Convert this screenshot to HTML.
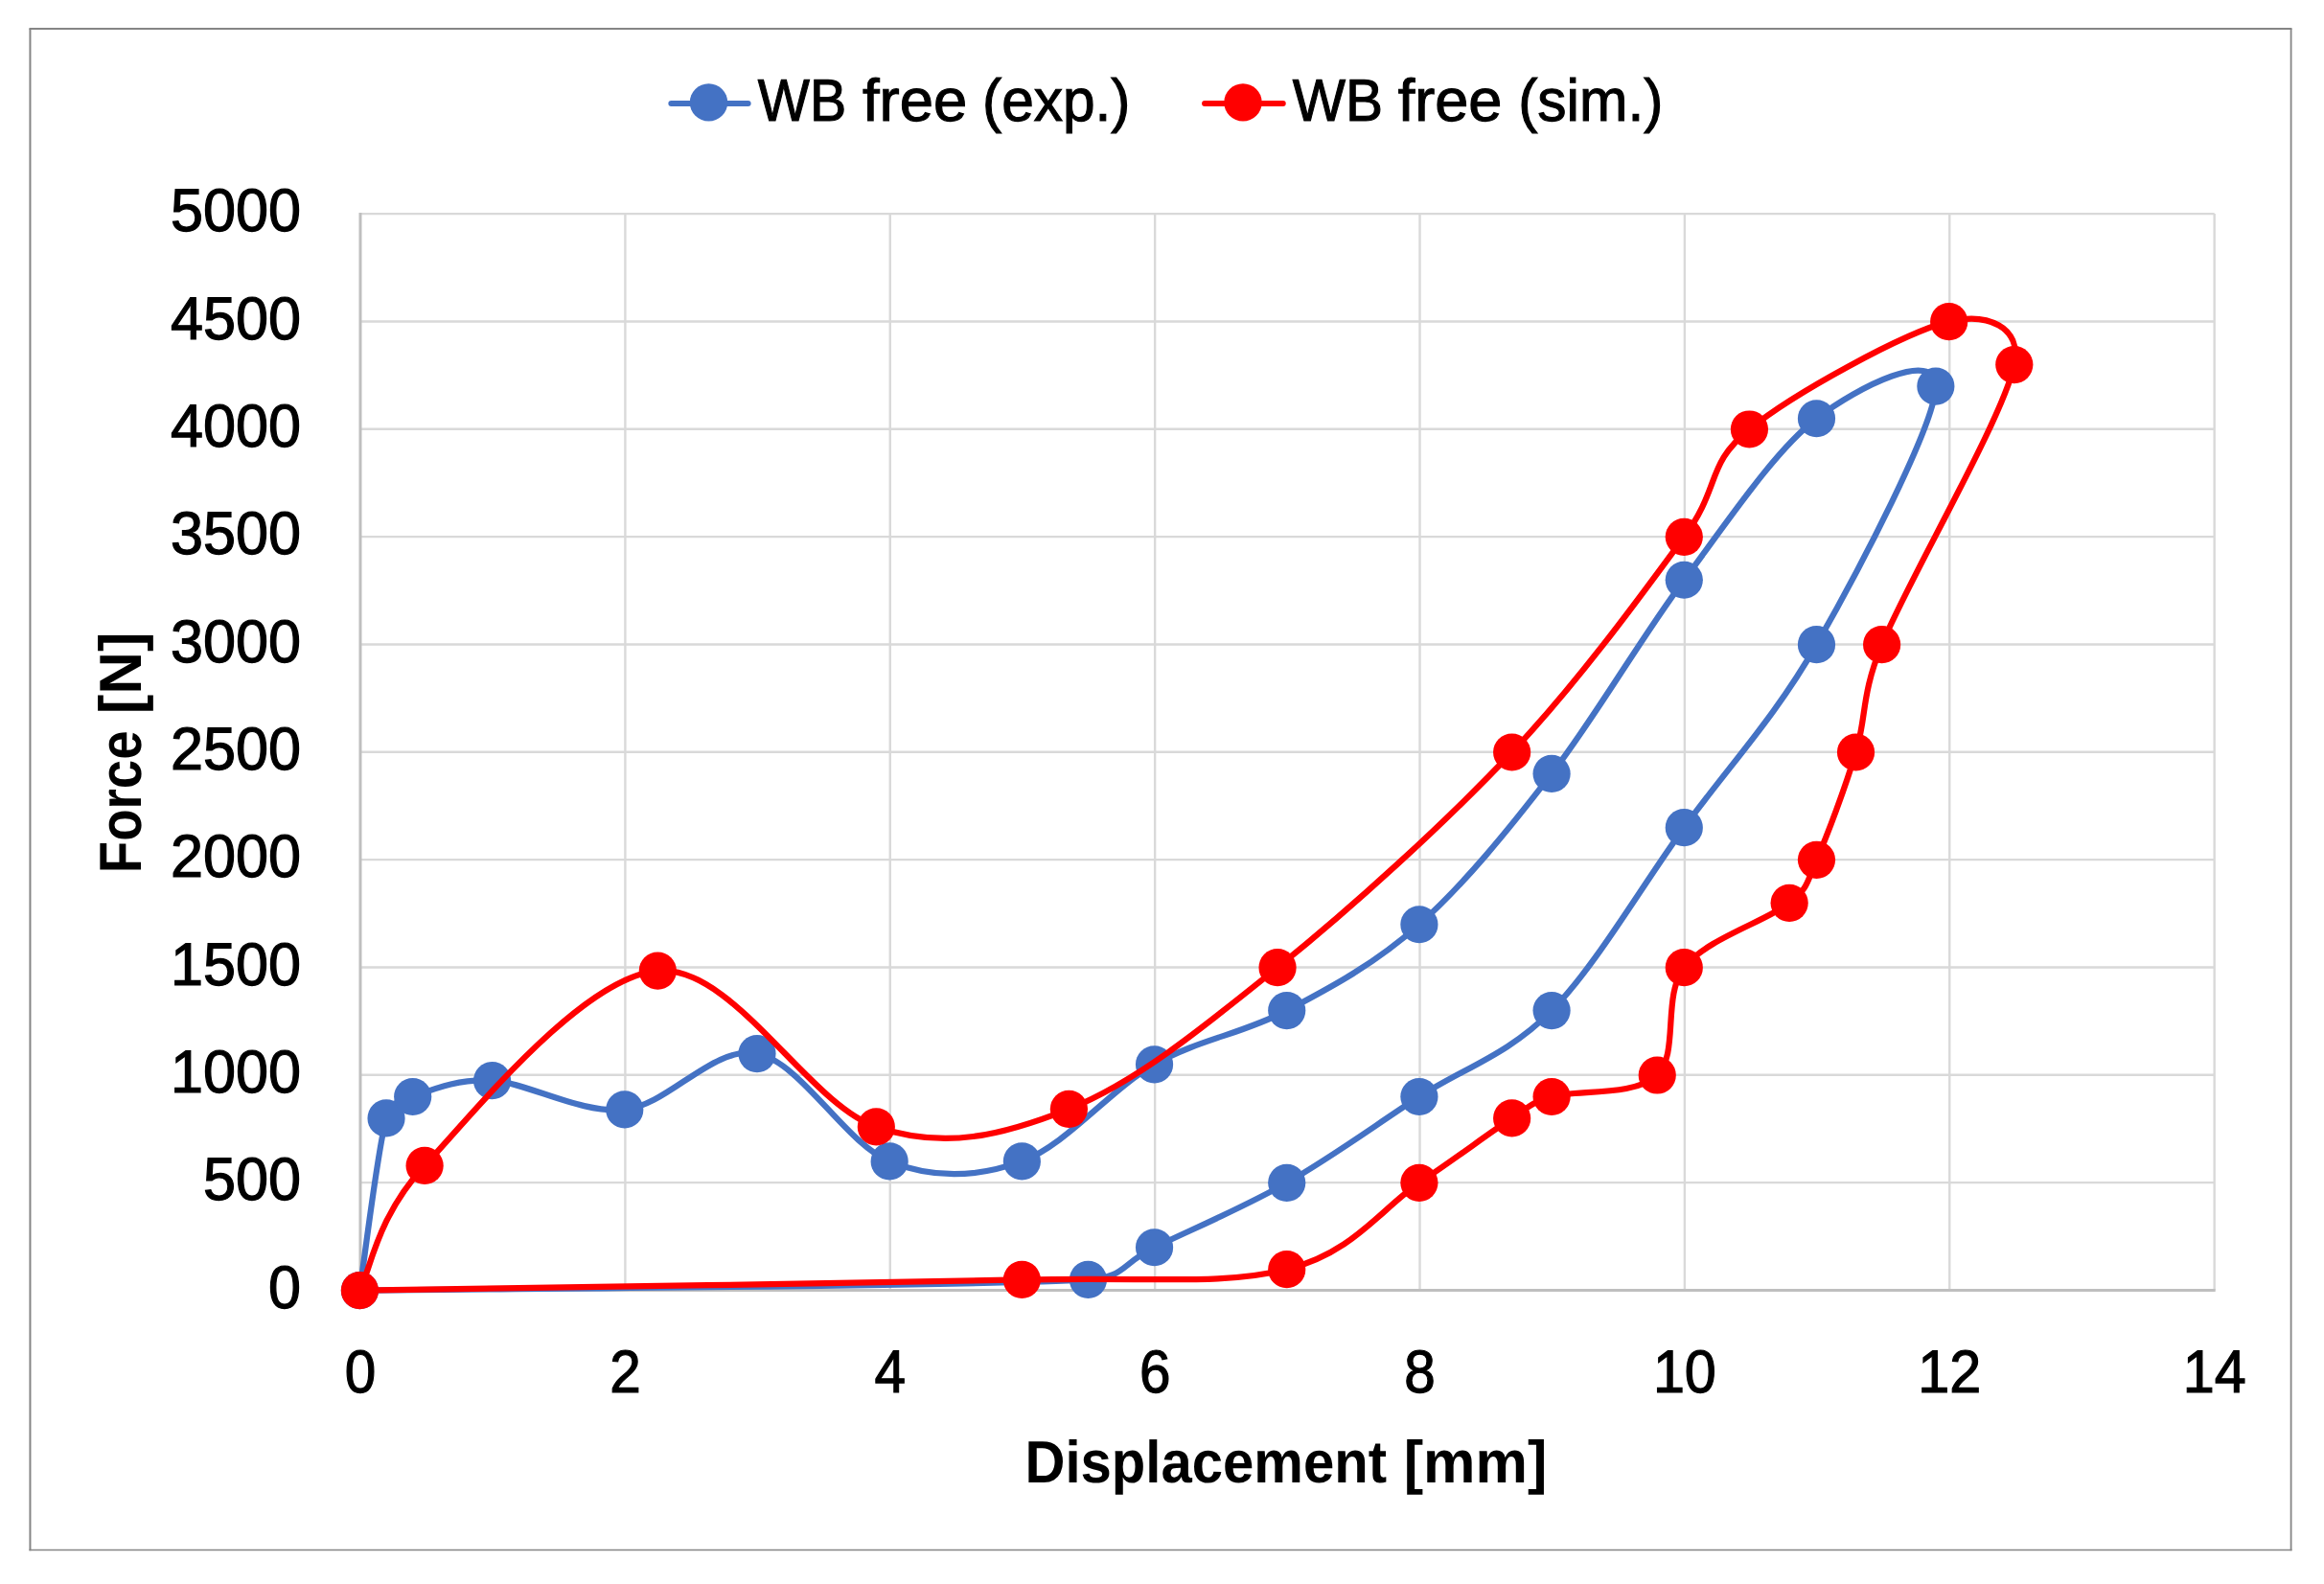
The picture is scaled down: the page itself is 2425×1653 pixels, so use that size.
<!DOCTYPE html>
<html lang="en"><head><meta charset="utf-8"><title>Force vs Displacement</title>
<style>html,body{margin:0;padding:0;background:#fff;}body{width:2425px;height:1653px;overflow:hidden;}svg{display:block;}text{text-rendering:geometricPrecision;font-family:"Liberation Sans",sans-serif;fill:#000;}</style></head><body>
<svg width="2425" height="1653" viewBox="0 0 2425 1653">
<rect x="0" y="0" width="2425" height="1653" fill="#fff"/>
<g stroke="#858585" fill="none"><line x1="30.45" y1="30" x2="2391.5" y2="30" stroke-width="2"/><line x1="31.45" y1="30" x2="31.45" y2="1618.3" stroke-width="2"/><line x1="2390.6" y1="30" x2="2390.6" y2="1618.3" stroke-width="1.8"/><line x1="30.45" y1="1617.55" x2="2391.5" y2="1617.55" stroke-width="1.6"/></g>
<g stroke="#d9d9d9" stroke-width="2.40"><line x1="376.00" y1="1234.16" x2="2310.65" y2="1234.16"/><line x1="376.00" y1="1121.82" x2="2310.65" y2="1121.82"/><line x1="376.00" y1="1009.48" x2="2310.65" y2="1009.48"/><line x1="376.00" y1="897.14" x2="2310.65" y2="897.14"/><line x1="376.00" y1="784.80" x2="2310.65" y2="784.80"/><line x1="376.00" y1="672.46" x2="2310.65" y2="672.46"/><line x1="376.00" y1="560.12" x2="2310.65" y2="560.12"/><line x1="376.00" y1="447.78" x2="2310.65" y2="447.78"/><line x1="376.00" y1="335.44" x2="2310.65" y2="335.44"/><line x1="376.00" y1="223.10" x2="2310.65" y2="223.10"/><line x1="652.38" y1="1346.50" x2="652.38" y2="223.10"/><line x1="928.76" y1="1346.50" x2="928.76" y2="223.10"/><line x1="1205.14" y1="1346.50" x2="1205.14" y2="223.10"/><line x1="1481.51" y1="1346.50" x2="1481.51" y2="223.10"/><line x1="1757.89" y1="1346.50" x2="1757.89" y2="223.10"/><line x1="2034.27" y1="1346.50" x2="2034.27" y2="223.10"/><line x1="2310.65" y1="1346.50" x2="2310.65" y2="223.10"/></g>
<g stroke="#bfbfbf" stroke-width="3"><line x1="376.00" y1="222.10" x2="376.00" y2="1348.00"/><line x1="374.50" y1="1346.50" x2="2311.65" y2="1346.50"/></g>
<g font-size="63" stroke="#000" stroke-width="1.2"><text x="314.1" y="1364.70" text-anchor="end" textLength="34.0" lengthAdjust="spacingAndGlyphs">0</text><text x="314.1" y="1252.36" text-anchor="end" textLength="102.0" lengthAdjust="spacingAndGlyphs">500</text><text x="314.1" y="1140.02" text-anchor="end" textLength="136.0" lengthAdjust="spacingAndGlyphs">1000</text><text x="314.1" y="1027.68" text-anchor="end" textLength="136.0" lengthAdjust="spacingAndGlyphs">1500</text><text x="314.1" y="915.34" text-anchor="end" textLength="136.0" lengthAdjust="spacingAndGlyphs">2000</text><text x="314.1" y="803.00" text-anchor="end" textLength="136.0" lengthAdjust="spacingAndGlyphs">2500</text><text x="314.1" y="690.66" text-anchor="end" textLength="136.0" lengthAdjust="spacingAndGlyphs">3000</text><text x="314.1" y="578.32" text-anchor="end" textLength="136.0" lengthAdjust="spacingAndGlyphs">3500</text><text x="314.1" y="465.98" text-anchor="end" textLength="136.0" lengthAdjust="spacingAndGlyphs">4000</text><text x="314.1" y="353.64" text-anchor="end" textLength="136.0" lengthAdjust="spacingAndGlyphs">4500</text><text x="314.1" y="241.30" text-anchor="end" textLength="136.0" lengthAdjust="spacingAndGlyphs">5000</text></g>
<g font-size="63" stroke="#000" stroke-width="1.2"><text x="376.00" y="1452.7" text-anchor="middle" textLength="32.5" lengthAdjust="spacingAndGlyphs">0</text><text x="652.38" y="1452.7" text-anchor="middle" textLength="32.5" lengthAdjust="spacingAndGlyphs">2</text><text x="928.76" y="1452.7" text-anchor="middle" textLength="32.5" lengthAdjust="spacingAndGlyphs">4</text><text x="1205.14" y="1452.7" text-anchor="middle" textLength="32.5" lengthAdjust="spacingAndGlyphs">6</text><text x="1481.51" y="1452.7" text-anchor="middle" textLength="32.5" lengthAdjust="spacingAndGlyphs">8</text><text x="1757.89" y="1452.7" text-anchor="middle" textLength="66.0" lengthAdjust="spacingAndGlyphs">10</text><text x="2034.27" y="1452.7" text-anchor="middle" textLength="66.0" lengthAdjust="spacingAndGlyphs">12</text><text x="2310.65" y="1452.7" text-anchor="middle" textLength="66.0" lengthAdjust="spacingAndGlyphs">14</text></g>
<text y="1546.8" font-size="62" font-weight="bold"><tspan x="1069.46" textLength="377.66" lengthAdjust="spacingAndGlyphs">Displacement</tspan> <tspan x="1464.73" textLength="149.64" lengthAdjust="spacingAndGlyphs">[mm]</tspan></text>
<text transform="translate(147.2 907) rotate(-90)" font-size="62" font-weight="bold"><tspan x="-4.18" textLength="148.75" lengthAdjust="spacingAndGlyphs">Force</tspan> <tspan x="161.78" textLength="85.82" lengthAdjust="spacingAndGlyphs">[N]</tspan></text>
<path d="M375.40 1346.70 C380.01 1316.74 393.83 1200.66 403.04 1166.96 C407.73 1149.78 413.90 1150.46 430.68 1144.49 C449.10 1137.93 476.74 1125.39 513.59 1127.64 C550.44 1129.88 605.72 1162.65 651.78 1157.97 C697.84 1153.29 743.90 1090.56 789.97 1099.55 C836.03 1108.54 882.09 1193.17 928.16 1211.89 C974.22 1230.62 1020.28 1228.74 1066.35 1211.89 C1112.41 1195.04 1158.47 1137.00 1204.54 1110.79 C1250.60 1084.57 1296.66 1078.96 1342.73 1054.62 C1388.79 1030.28 1434.85 1005.94 1480.91 964.74 C1526.98 923.55 1573.04 867.38 1619.10 807.47 C1665.17 747.55 1711.23 667.04 1757.29 605.26 C1803.36 543.47 1851.72 470.45 1895.48 436.75 C1939.24 403.04 2019.85 363.73 2019.85 403.04 C2019.85 442.36 1939.24 595.89 1895.48 672.66 C1851.72 749.43 1803.36 799.98 1757.29 863.64 C1711.23 927.30 1665.17 1007.81 1619.10 1054.62 C1573.04 1101.42 1526.98 1114.53 1480.91 1144.49 C1434.85 1174.45 1388.79 1208.15 1342.73 1234.36 C1296.66 1260.57 1239.08 1284.91 1204.54 1301.76 C1169.99 1318.62 1173.82 1333.39 1135.44 1335.47 C997.25 1342.96 502.07 1344.83 375.40 1346.70" fill="none" stroke="#4472c4" stroke-width="6.25" stroke-linecap="round" stroke-linejoin="round"/>
<g fill="#4472c4"><circle cx="375.40" cy="1346.70" r="19.6"/><circle cx="403.04" cy="1166.96" r="19.6"/><circle cx="430.68" cy="1144.49" r="19.6"/><circle cx="513.59" cy="1127.64" r="19.6"/><circle cx="651.78" cy="1157.97" r="19.6"/><circle cx="789.97" cy="1099.55" r="19.6"/><circle cx="928.16" cy="1211.89" r="19.6"/><circle cx="1066.35" cy="1211.89" r="19.6"/><circle cx="1204.54" cy="1110.79" r="19.6"/><circle cx="1342.73" cy="1054.62" r="19.6"/><circle cx="1480.91" cy="964.74" r="19.6"/><circle cx="1619.10" cy="807.47" r="19.6"/><circle cx="1757.29" cy="605.26" r="19.6"/><circle cx="1895.48" cy="436.75" r="19.6"/><circle cx="2019.85" cy="403.04" r="19.6"/><circle cx="1895.48" cy="672.66" r="19.6"/><circle cx="1757.29" cy="863.64" r="19.6"/><circle cx="1619.10" cy="1054.62" r="19.6"/><circle cx="1480.91" cy="1144.49" r="19.6"/><circle cx="1342.73" cy="1234.36" r="19.6"/><circle cx="1204.54" cy="1301.76" r="19.6"/><circle cx="1135.44" cy="1335.47" r="19.6"/></g>
<path d="M375.40 1346.70 C386.69 1324.98 393.05 1270.10 443.11 1216.39 C494.93 1160.78 607.79 1019.79 686.33 1013.05 C764.86 1006.31 842.83 1151.90 914.34 1175.94 C985.85 1199.98 1045.62 1185.01 1115.40 1157.29 C1185.19 1129.58 1256.01 1071.73 1333.05 1009.68 C1410.09 947.63 1506.94 859.89 1577.65 785.00 C1648.35 710.11 1716.00 616.49 1757.29 560.32 C1796.20 507.39 1779.36 485.43 1825.42 447.98 C1871.48 410.53 1987.61 346.87 2033.67 335.64 C2073.32 325.97 2110.10 340.62 2101.80 380.58 C2090.12 436.75 1991.16 605.26 1963.61 672.66 C1941.75 726.15 1947.88 747.55 1936.52 785.00 C1925.17 822.45 1907.04 871.13 1895.48 897.34 C1884.76 921.64 1887.76 925.52 1867.15 942.28 C1844.12 961.00 1780.28 979.72 1757.29 1009.68 C1734.31 1039.64 1752.27 1099.55 1729.24 1122.02 C1706.21 1144.49 1644.37 1137.00 1619.10 1144.49 C1596.50 1151.19 1597.41 1154.10 1577.65 1166.96 C1554.62 1181.93 1520.07 1208.07 1480.91 1234.36 C1441.76 1260.65 1411.82 1307.83 1342.73 1324.68 C1273.63 1341.53 1204.61 1332.32 1066.35 1335.47 C905.13 1339.14 490.56 1344.83 375.40 1346.70" fill="none" stroke="#ff0000" stroke-width="6.25" stroke-linecap="round" stroke-linejoin="round"/>
<g fill="#ff0000"><circle cx="375.40" cy="1346.70" r="19.6"/><circle cx="443.11" cy="1216.39" r="19.6"/><circle cx="686.33" cy="1013.05" r="19.6"/><circle cx="914.34" cy="1175.94" r="19.6"/><circle cx="1115.40" cy="1157.29" r="19.6"/><circle cx="1333.05" cy="1009.68" r="19.6"/><circle cx="1577.65" cy="785.00" r="19.6"/><circle cx="1757.29" cy="560.32" r="19.6"/><circle cx="1825.42" cy="447.98" r="19.6"/><circle cx="2033.67" cy="335.64" r="19.6"/><circle cx="2101.80" cy="380.58" r="19.6"/><circle cx="1963.61" cy="672.66" r="19.6"/><circle cx="1936.52" cy="785.00" r="19.6"/><circle cx="1895.48" cy="897.34" r="19.6"/><circle cx="1867.15" cy="942.28" r="19.6"/><circle cx="1757.29" cy="1009.68" r="19.6"/><circle cx="1729.24" cy="1122.02" r="19.6"/><circle cx="1619.10" cy="1144.49" r="19.6"/><circle cx="1577.65" cy="1166.96" r="19.6"/><circle cx="1480.91" cy="1234.36" r="19.6"/><circle cx="1342.73" cy="1324.68" r="19.6"/><circle cx="1066.35" cy="1335.47" r="19.6"/></g>
<line x1="700.4" y1="107.95" x2="780.6" y2="107.95" stroke="#4472c4" stroke-width="6.1" stroke-linecap="round"/><circle cx="739.5" cy="106.9" r="19.7" fill="#4472c4"/>
<text y="126.0" font-size="62" stroke="#000" stroke-width="1.1"><tspan x="790.80" textLength="92.36" lengthAdjust="spacingAndGlyphs">WB</tspan> <tspan x="900.00" textLength="109.28" lengthAdjust="spacingAndGlyphs">free</tspan> <tspan x="1025.03" textLength="154.42" lengthAdjust="spacingAndGlyphs">(exp.)</tspan></text>
<line x1="1257.1" y1="107.95" x2="1338.7" y2="107.95" stroke="#ff0000" stroke-width="6.1" stroke-linecap="round"/><circle cx="1297" cy="106.9" r="19.7" fill="#ff0000"/>
<text y="126.0" font-size="62" stroke="#000" stroke-width="1.1"><tspan x="1348.80" textLength="94.28" lengthAdjust="spacingAndGlyphs">WB</tspan> <tspan x="1458.69" textLength="108.67" lengthAdjust="spacingAndGlyphs">free</tspan> <tspan x="1584.16" textLength="151.22" lengthAdjust="spacingAndGlyphs">(sim.)</tspan></text>
</svg></body></html>
